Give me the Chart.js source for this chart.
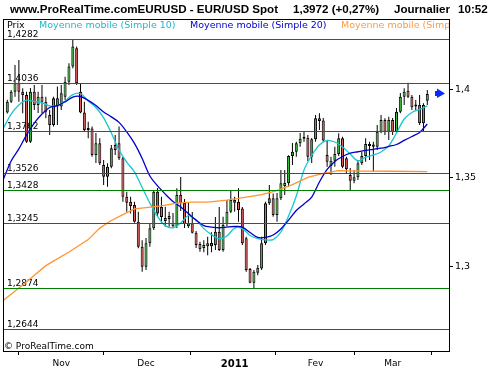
<!DOCTYPE html>
<html>
<head>
<meta charset="utf-8">
<script src="https://cdn.jsdelivr.net/npm/chart.js@4.4.1/dist/chart.umd.min.js"></script>
<style>
  html, body { margin: 0; padding: 0; background: #fff; }
</style>
</head>
<body>
<canvas id="priceChart" width="500" height="370" style="width:500px;height:370px"></canvas>
<script>
// Daily EUR/USD candles, 12 Oct 2010 -> 14 Mar 2011 (index 0 = first candle)
let opens = [
    1.3867, 1.3928, 1.3985, 1.4033, 1.3985, 1.3967, 1.3702, 1.3985, 1.3910, 1.3957,
    1.3928, 1.3854, 1.3797, 1.3901, 1.3901, 1.3957, 1.4042, 1.4127, 1.4231, 1.3985,
    1.3867, 1.3778, 1.3778, 1.3628, 1.3694, 1.3571, 1.3505, 1.3562, 1.3684, 1.3694,
    1.3609, 1.3392, 1.3364, 1.3345, 1.3251, 1.3110, 1.2997, 1.3129, 1.3214, 1.3420,
    1.3334, 1.3255, 1.3283, 1.3226, 1.3226, 1.3402, 1.3357, 1.3226, 1.3242, 1.3189,
    1.3125, 1.3102, 1.3113, 1.3113, 1.3119, 1.3194, 1.3091, 1.3238, 1.3307, 1.3373,
    1.3364, 1.3326, 1.3157, 1.2984, 1.2906, 1.2963, 1.2987, 1.3129, 1.3355, 1.3383,
    1.3289, 1.3383, 1.3452, 1.3468, 1.3622, 1.3646, 1.3694, 1.3719, 1.3725, 1.3618,
    1.3716, 1.3835, 1.3822, 1.3628, 1.3565, 1.3595, 1.3633, 1.3722, 1.3609, 1.3515,
    1.3482, 1.3502, 1.3581, 1.3622, 1.3690, 1.3675, 1.3675, 1.3759, 1.3825, 1.3759,
    1.3825, 1.3759, 1.3872, 1.3957, 1.3991, 1.3957, 1.3910, 1.3910, 1.3807, 1.3934
];
let highs = [
    1.3940, 1.3995, 1.4136, 1.4164, 1.4005, 1.3985, 1.4006, 1.4023, 1.3985, 1.4023,
    1.3957, 1.3882, 1.3957, 1.4014, 1.4023, 1.4070, 1.4146, 1.4282, 1.4240, 1.4033,
    1.3928, 1.3816, 1.3788, 1.3752, 1.3722, 1.3599, 1.3581, 1.3684, 1.3740, 1.3788,
    1.3618, 1.3420, 1.3392, 1.3364, 1.3307, 1.3147, 1.3159, 1.3242, 1.3430, 1.3441,
    1.3392, 1.3336, 1.3307, 1.3300, 1.3440, 1.3503, 1.3379, 1.3356, 1.3306, 1.3198,
    1.3138, 1.3147, 1.3166, 1.3192, 1.3277, 1.3334, 1.3279, 1.3373, 1.3430, 1.3392,
    1.3440, 1.3334, 1.3166, 1.2989, 1.2978, 1.3006, 1.3166, 1.3364, 1.3458, 1.3411,
    1.3413, 1.3543, 1.3543, 1.3627, 1.3695, 1.3703, 1.3752, 1.3759, 1.3740, 1.3724,
    1.3854, 1.3863, 1.3837, 1.3709, 1.3618, 1.3675, 1.3750, 1.3731, 1.3618, 1.3554,
    1.3543, 1.3599, 1.3646, 1.3722, 1.3703, 1.3703, 1.3797, 1.3854, 1.3835, 1.3844,
    1.3837, 1.3893, 1.3978, 1.4005, 1.4036, 1.3967, 1.3938, 1.3967, 1.3920, 1.3995
];
let lows = [
    1.3862, 1.3922, 1.3957, 1.3928, 1.3863, 1.3695, 1.3695, 1.3882, 1.3865, 1.3863,
    1.3835, 1.3740, 1.3788, 1.3797, 1.3882, 1.3938, 1.4023, 1.4118, 1.4023, 1.3863,
    1.3759, 1.3722, 1.3618, 1.3582, 1.3571, 1.3458, 1.3449, 1.3553, 1.3628, 1.3599,
    1.3364, 1.3307, 1.3298, 1.3245, 1.3101, 1.2968, 1.2978, 1.3110, 1.3204, 1.3279,
    1.3241, 1.3223, 1.3223, 1.3215, 1.3215, 1.3311, 1.3215, 1.3215, 1.3185, 1.3102,
    1.3081, 1.3079, 1.3062, 1.3079, 1.3091, 1.3085, 1.3081, 1.3226, 1.3300, 1.3307,
    1.3251, 1.3119, 1.2968, 1.2903, 1.2875, 1.2949, 1.2978, 1.3119, 1.3345, 1.3279,
    1.3251, 1.3373, 1.3402, 1.3449, 1.3571, 1.3618, 1.3675, 1.3703, 1.3594, 1.3582,
    1.3703, 1.3769, 1.3703, 1.3562, 1.3515, 1.3562, 1.3622, 1.3553, 1.3526, 1.3430,
    1.3468, 1.3486, 1.3571, 1.3590, 1.3599, 1.3533, 1.3656, 1.3750, 1.3740, 1.3712,
    1.3740, 1.3750, 1.3863, 1.3910, 1.3950, 1.3882, 1.3882, 1.3797, 1.3759, 1.3910
];
let closes = [
    1.3928, 1.3985, 1.4033, 1.3985, 1.3967, 1.3702, 1.3985, 1.3910, 1.3957, 1.3928,
    1.3872, 1.3797, 1.3948, 1.3948, 1.3976, 1.4042, 1.4127, 1.4240, 1.4033, 1.3867,
    1.3769, 1.3769, 1.3628, 1.3694, 1.3581, 1.3505, 1.3562, 1.3666, 1.3656, 1.3609,
    1.3392, 1.3358, 1.3340, 1.3251, 1.3110, 1.2997, 1.3129, 1.3214, 1.3420, 1.3298,
    1.3277, 1.3272, 1.3266, 1.3245, 1.3402, 1.3355, 1.3238, 1.3242, 1.3189, 1.3119,
    1.3095, 1.3119, 1.3129, 1.3131, 1.3194, 1.3091, 1.3232, 1.3307, 1.3373, 1.3358,
    1.3317, 1.3129, 1.2978, 1.2906, 1.2968, 1.2991, 1.3129, 1.3355, 1.3383, 1.3289,
    1.3383, 1.3468, 1.3469, 1.3622, 1.3646, 1.3694, 1.3719, 1.3731, 1.3618, 1.3716,
    1.3835, 1.3820, 1.3709, 1.3590, 1.3595, 1.3633, 1.3722, 1.3562, 1.3547, 1.3482,
    1.3502, 1.3581, 1.3622, 1.3690, 1.3679, 1.3687, 1.3759, 1.3825, 1.3759, 1.3825,
    1.3759, 1.3872, 1.3957, 1.3985, 1.3957, 1.3897, 1.3901, 1.3807, 1.3910, 1.3972
];

let maDays = [
    -1, 1, 3, 5, 7, 9, 11, 13, 15, 17, 19, 21, 23, 25, 27, 29, 31, 33, 35, 37,
    39, 41, 43, 45, 47, 49, 51, 53, 55, 57, 59, 61, 63, 65, 67, 69, 71, 73, 75, 77,
    79, 81, 83, 85, 87, 89, 91, 93, 95, 97, 99, 101, 103, 105, 107, 109
];
let ma10 = [
    1.3780, 1.3859, 1.3910, 1.3937, 1.3930, 1.3924, 1.3905, 1.3907, 1.3933, 1.3969,
    1.3975, 1.3933, 1.3896, 1.3837, 1.3752, 1.3656, 1.3588, 1.3532, 1.3444, 1.3356,
    1.3280, 1.3229, 1.3217, 1.3243, 1.3286, 1.3260, 1.3212, 1.3178, 1.3155, 1.3170,
    1.3215, 1.3212, 1.3173, 1.3156, 1.3149, 1.3150, 1.3193, 1.3283, 1.3396, 1.3543,
    1.3625, 1.3684, 1.3710, 1.3701, 1.3673, 1.3633, 1.3594, 1.3616, 1.3628, 1.3645,
    1.3679, 1.3752, 1.3831, 1.3868, 1.3885, 1.3905
];
let ma20 = [
    1.3492, 1.3594, 1.3662, 1.3741, 1.3808, 1.3859, 1.3896, 1.3906, 1.3928, 1.3955,
    1.3958, 1.3936, 1.3907, 1.3871, 1.3843, 1.3812, 1.3758, 1.3693, 1.3608, 1.3509,
    1.3453, 1.3407, 1.3365, 1.3334, 1.3297, 1.3260, 1.3229, 1.3221, 1.3217, 1.3221,
    1.3224, 1.3221, 1.3190, 1.3162, 1.3163, 1.3176, 1.3210, 1.3260, 1.3314, 1.3351,
    1.3390, 1.3475, 1.3546, 1.3591, 1.3619, 1.3638, 1.3646, 1.3654, 1.3660, 1.3666,
    1.3676, 1.3687, 1.3710, 1.3732, 1.3755, 1.3803
];
let longDays = [-1, 4, 10, 16, 21, 24, 27, 30, 33, 36, 40, 44, 48, 52, 57, 62, 66, 70, 74, 78, 82, 86, 92, 100, 109];
let maLong = [
    1.2808, 1.2893, 1.3003, 1.3080, 1.3150, 1.3215, 1.3258, 1.3291, 1.3323, 1.3331,
    1.3340, 1.3356, 1.3362, 1.3362, 1.3373, 1.3390, 1.3404, 1.3427, 1.3460, 1.3501,
    1.3524, 1.3539, 1.3537, 1.3536, 1.3534
];

let resistanceLevels = [1.4282, 1.4036];
let supportLevels = [1.3762, 1.3526, 1.3428, 1.3245, 1.2874, 1.2644];

let monthTicks = [14, 36, 59, 80, 100];
let monthLabels = ["Nov", "Dec", "2011", "Fev", "Mar"];
let priceTicks = [1.3, 1.35, 1.4];

const upColor = "#40c840";
const downColor = "#e86060";
const lastPrice = closes[closes.length - 1];

function frNumber(v, digits) {
    return (digits === undefined ? String(v) : v.toFixed(digits)).replace(".", ",");
}

const decorations = {
    id: "decorations",
    beforeDatasetsDraw(chart) {
        const { ctx, chartArea, scales: { y } } = chart;
        ctx.save();
        ctx.font = '9px "DejaVu Sans"';
        ctx.fillStyle = "#000";
        [...resistanceLevels, ...supportLevels].forEach(v => {
            ctx.fillText(frNumber(v, 4), chartArea.left + 4, Math.round(y.getPixelForValue(v)) - 2);
        });
        ctx.restore();
    },
    afterDatasetsDraw(chart) {
        const { ctx, chartArea, scales: { y } } = chart;
        ctx.save();
        ctx.lineWidth = 1;
        const line = (v, color) => {
            const py = Math.round(y.getPixelForValue(v)) + 0.5;
            ctx.strokeStyle = color;
            ctx.beginPath();
            ctx.moveTo(chartArea.left, py);
            ctx.lineTo(chartArea.right, py);
            ctx.stroke();
        };
        resistanceLevels.forEach(v => line(v, "#ff0000"));
        supportLevels.forEach(v => line(v, "#008000"));
        ctx.restore();
    },
    afterDraw(chart) {
        const { ctx, chartArea, scales: { y } } = chart;
        ctx.save();

        // header
        ctx.fillStyle = "#000";
        ctx.font = 'bold 11.6px "Liberation Sans"';
        ctx.fillText("www.ProRealTime.comEURUSD - EUR/USD Spot", 10, 13);
        ctx.fillText("1,3972 (+0,27%)", 293, 13);
        ctx.fillText("Journalier", 394, 13);
        ctx.fillText("10:52", 458, 13);

        // legend inside the box
        ctx.save();
        ctx.beginPath();
        ctx.rect(chartArea.left, chartArea.top, chartArea.right - chartArea.left, chartArea.bottom - chartArea.top);
        ctx.clip();
        ctx.font = '9.5px "DejaVu Sans"';
        ctx.fillStyle = "#000";
        ctx.fillText("Prix", 7, 28);
        ctx.fillStyle = "#20b8c8";
        ctx.fillText("Moyenne mobile (Simple 10)", 39, 28);
        ctx.fillStyle = "#0000d0";
        ctx.fillText("Moyenne mobile (Simple 20)", 190, 28);
        ctx.fillStyle = "#ff9a40";
        ctx.fillText("Moyenne mobile (Simple 100)", 341, 28);
        ctx.restore();

        // copyright
        ctx.font = '9px "DejaVu Sans"';
        ctx.fillStyle = "#000";
        ctx.fillText("\u00A9 ProRealTime.com", 4, 349);

        // frame
        ctx.strokeStyle = "#000";
        ctx.lineWidth = 1;
        ctx.strokeRect(chartArea.left + 0.5, chartArea.top - 0.5,
                       chartArea.right - chartArea.left, chartArea.bottom - chartArea.top + 1);

        // last price arrow
        const cy = Math.round(y.getPixelForValue(lastPrice)) - 1;
        const r = chartArea.right;
        ctx.fillStyle = "#0a28ff";
        ctx.fillRect(r - 14, cy - 2, 3, 5);
        ctx.beginPath();
        ctx.moveTo(r - 12, cy - 4.5);
        ctx.lineTo(r - 4, cy + 0.5);
        ctx.lineTo(r - 12, cy + 5);
        ctx.closePath();
        ctx.fill();
        ctx.restore();
    }
};

const wickData = lows.map((low, i) => ({ x: i, y: [low, highs[i]] }));
const bodyData = opens.map((open, i) => ({ x: i, y: [open, closes[i]] }));
const bodyColors = opens.map((open, i) => closes[i] >= open ? upColor : downColor);

new Chart(document.getElementById("priceChart"), {
    type: "bar",
    data: {
        datasets: [
            {
                label: "wicks",
                data: wickData,
                backgroundColor: "#000",
                borderWidth: 0,
                barThickness: 1,
                grouped: false,
                inflateAmount: 0,
                order: 3
            },
            {
                label: "Prix",
                data: bodyData,
                backgroundColor: bodyColors,
                borderColor: "#000",
                borderWidth: 1,
                borderSkipped: false,
                barThickness: 3,
                minBarLength: 2,
                grouped: false,
                inflateAmount: 0,
                order: 2
            },
            {
                type: "line",
                label: "Moyenne mobile (Simple 100)",
                data: longDays.map((d, i) => ({ x: d, y: maLong[i] })),
                borderColor: "#ff9530",
                borderWidth: 1.3,
                pointRadius: 0,
                tension: 0,
                order: 1
            },
            {
                type: "line",
                label: "Moyenne mobile (Simple 20)",
                data: maDays.map((d, i) => ({ x: d, y: ma20[i] })),
                borderColor: "#0000c8",
                borderWidth: 1.3,
                pointRadius: 0,
                tension: 0.3,
                order: 1
            },
            {
                type: "line",
                label: "Moyenne mobile (Simple 10)",
                data: maDays.map((d, i) => ({ x: d, y: ma10[i] })),
                borderColor: "#18c8d0",
                borderWidth: 1.3,
                pointRadius: 0,
                tension: 0.3,
                order: 1
            }
        ]
    },
    options: {
        responsive: false,
        animation: false,
        events: [],
        layout: { padding: { left: 3, top: 20, right: 0, bottom: 0 } },
        plugins: {
            legend: { display: false },
            tooltip: { enabled: false }
        },
        scales: {
            x: {
                type: "linear",
                min: -1.116,
                max: 114.63,
                offset: false,
                afterBuildTicks(scale) {
                    scale.ticks = monthTicks.map(v => ({ value: v }));
                },
                afterFit(scale) { scale.height = 19; },
                grid: {
                    drawOnChartArea: false,
                    drawTicks: true,
                    tickLength: 4,
                    color: "#000"
                },
                border: { display: false },
                ticks: {
                    autoSkip: false,
                    maxRotation: 0,
                    padding: 3,
                    color: "#000",
                    font: ctx => ctx.tick && ctx.tick.value === 59
                        ? { family: "DejaVu Sans", size: 10, weight: "bold" }
                        : { family: "DejaVu Sans", size: 9 },
                    callback: v => monthLabels[monthTicks.indexOf(v)]
                }
            },
            y: {
                type: "linear",
                position: "right",
                min: 1.2521,
                max: 1.4390,
                afterBuildTicks(scale) {
                    scale.ticks = priceTicks.map(v => ({ value: v }));
                },
                afterFit(scale) { scale.width = 51; },
                grid: {
                    drawOnChartArea: false,
                    drawTicks: true,
                    tickLength: 4,
                    color: "#000"
                },
                border: { display: false },
                ticks: {
                    padding: 2,
                    color: "#000",
                    font: { family: "DejaVu Sans", size: 9.5 },
                    callback: v => frNumber(v)
                }
            }
        }
    },
    plugins: [decorations]
});
</script>
</body>
</html>
